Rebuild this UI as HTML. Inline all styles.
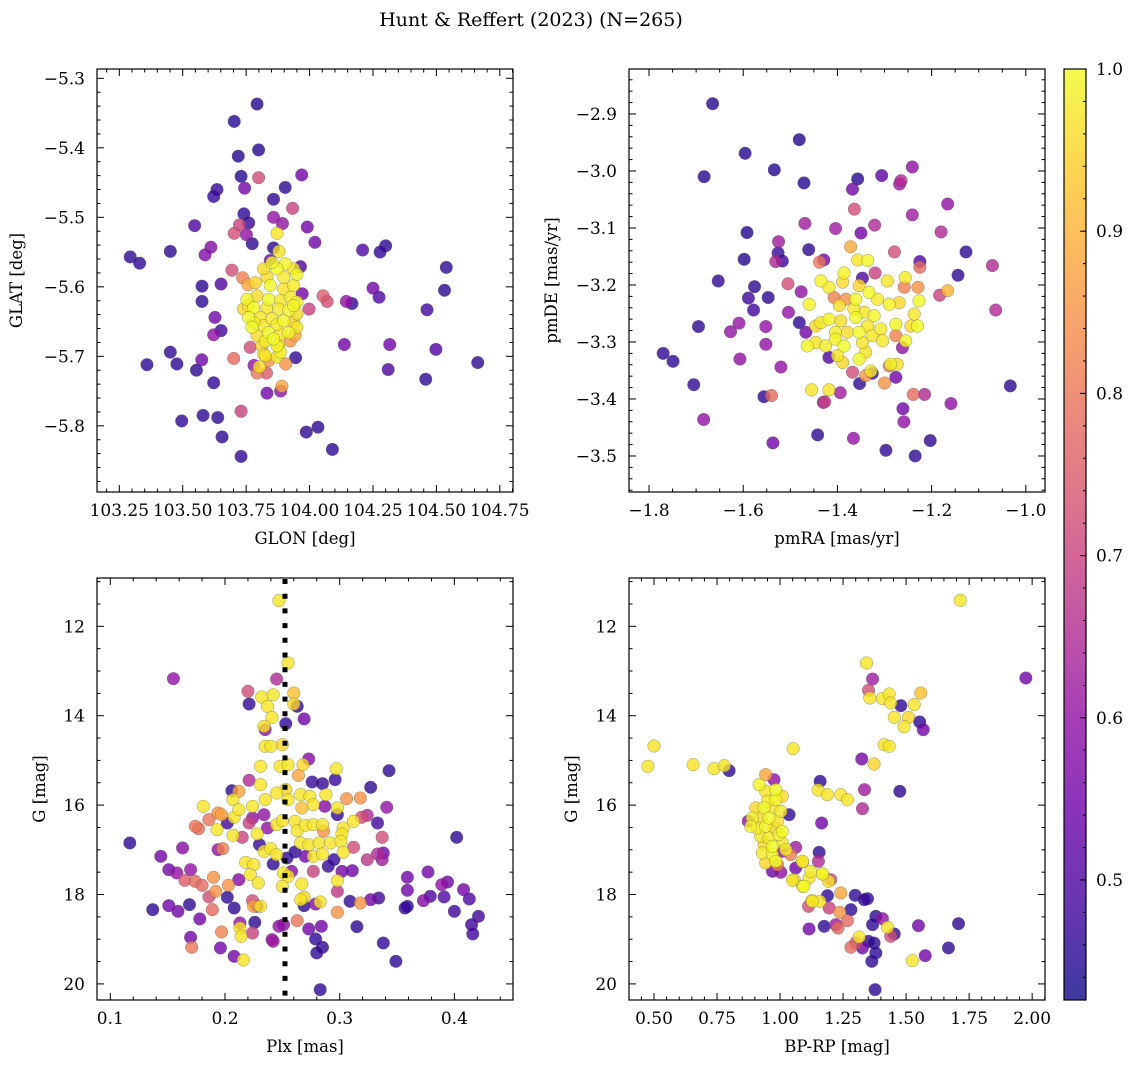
<!DOCTYPE html>
<html><head><meta charset="utf-8">
<style>
html,body{margin:0;padding:0;background:#fff;}
svg{display:block;font-family:"DejaVu Serif","Liberation Serif",serif;}
</style></head>
<body>
<svg id="fig" width="1136" height="1068" viewBox="0 0 1136 1068" xmlns="http://www.w3.org/2000/svg">
<text x="531" y="26" text-anchor="middle" font-size="19">Hunt &amp; Reffert (2023) (N=265)</text>
</svg>
<script>
// ---------- Panel 1: GLON / GLAT ----------
const glon = [103.793,103.703,103.799,103.719,103.730,103.799,103.969,103.635,103.622,103.744,103.904,103.858,103.933,103.741,103.760,103.724,103.703,103.751,103.858,103.893,103.991,103.547,103.774,103.872,104.021,103.451,103.293,103.330,103.611,103.588,103.858,103.879,104.209,104.300,104.278,104.539,104.532,103.694,103.576,103.651,103.576,103.845,103.964,103.736,103.757,104.250,104.274,104.053,104.069,104.145,104.167,103.971,103.998,104.463,103.627,103.651,103.622,103.451,103.477,103.359,103.554,103.575,103.701,103.766,103.781,103.802,103.793,103.830,103.906,103.945,104.137,104.316,104.310,104.498,104.663,104.458,103.622,103.832,103.891,103.886,103.730,103.496,103.580,103.638,103.655,103.987,104.033,104.090,103.730,103.924,103.943,103.950,103.819,103.872,103.839,103.878];
const glat = [-5.337,-5.362,-5.403,-5.412,-5.441,-5.443,-5.439,-5.460,-5.470,-5.458,-5.457,-5.474,-5.487,-5.495,-5.508,-5.511,-5.523,-5.525,-5.500,-5.509,-5.514,-5.512,-5.538,-5.523,-5.536,-5.549,-5.557,-5.566,-5.543,-5.554,-5.544,-5.549,-5.547,-5.541,-5.550,-5.572,-5.605,-5.576,-5.599,-5.596,-5.621,-5.562,-5.571,-5.587,-5.597,-5.602,-5.615,-5.613,-5.621,-5.621,-5.624,-5.610,-5.632,-5.633,-5.644,-5.663,-5.669,-5.694,-5.711,-5.712,-5.720,-5.705,-5.703,-5.687,-5.713,-5.715,-5.724,-5.724,-5.711,-5.702,-5.683,-5.683,-5.719,-5.690,-5.709,-5.733,-5.738,-5.753,-5.743,-5.750,-5.779,-5.793,-5.785,-5.788,-5.816,-5.809,-5.802,-5.834,-5.844,-5.678,-5.670,-5.658,-5.697,-5.701,-5.706,-5.684];
const prob1 = [.45,.45,.45,.45,.45,.72,.55,.47,.47,.55,.46,.46,.7,.46,.47,.7,.72,.6,.6,.6,.55,.5,.46,.97,.55,.46,.46,.46,.58,.58,.46,.97,.5,.46,.46,.46,.46,.72,.46,.5,.46,.55,.5,.82,.88,.55,.5,.75,.72,.6,.47,.55,.7,.48,.55,.48,.6,.46,.46,.46,.46,.55,.78,.72,.6,.97,.8,.75,.85,.46,.55,.55,.5,.5,.46,.46,.46,.55,.88,.6,.7,.46,.46,.46,.46,.46,.46,.46,.46,.85,.88,.97,.97,.97,.85,.97];
const glonCore = [103.904,103.937,103.872,103.832,103.898,103.950,103.786,103.845,103.898,103.937,103.753,103.793,103.839,103.885,103.924,103.950,103.740,103.780,103.832,103.878,103.918,103.950,103.760,103.806,103.852,103.898,103.937,103.773,103.819,103.872,103.918,103.793,103.839,103.885,103.826,103.872,103.812,103.858,103.760,103.780,103.937,103.819,103.852,103.826,103.885];
const glatCore = [-5.567,-5.574,-5.574,-5.586,-5.586,-5.582,-5.594,-5.598,-5.603,-5.598,-5.618,-5.613,-5.618,-5.620,-5.615,-5.622,-5.632,-5.630,-5.630,-5.632,-5.634,-5.639,-5.644,-5.644,-5.646,-5.649,-5.651,-5.658,-5.656,-5.654,-5.666,-5.670,-5.666,-5.668,-5.678,-5.685,-5.685,-5.675,-5.627,-5.651,-5.627,-5.574,-5.565,-5.699,-5.694];
const coreProb = [0.99,0.97,1.0,0.96,0.98,0.99,0.95,1.0,0.97,0.98,0.99,0.96,1.0,0.97,0.98,0.99,0.95,1.0,0.97,0.98,0.99,0.96,1.0,0.97,0.98,0.99,0.95,1.0,0.97,0.98,0.99,0.96,1.0,0.97,0.98,0.99,0.95,1.0,0.97,0.98,0.99,0.96,1.0,0.97,0.98,0.99,0.95,1.0,0.97,0.98];

// ---------- Panel 2: pmRA / pmDE ----------
const pmra = [-1.665,-1.481,-1.596,-1.683,-1.534,-1.471,-1.357,-1.368,-1.306,-1.265,-1.268,-1.241,-1.364,-1.166,-1.241,-1.469,-1.404,-1.350,-1.321,-1.180,-1.592,-1.525,-1.526,-1.517,-1.531,-1.598,-1.461,-1.429,-1.438,-1.372,-1.279,-1.225,-1.225,-1.320,-1.127,-1.144,-1.071,-1.653,-1.576,-1.589,-1.547,-1.578,-1.505,-1.477,-1.504,-1.183,-1.166,-1.064,-1.695,-1.609,-1.627,-1.552,-1.552,-1.607,-1.520,-1.481,-1.467,-1.770,-1.749,-1.705,-1.684,-1.556,-1.540,-1.430,-1.427,-1.394,-1.455,-1.418,-1.353,-1.300,-1.239,-1.215,-1.159,-1.261,-1.259,-1.442,-1.537,-1.366,-1.297,-1.235,-1.203,-1.033,-1.262,-1.276,-1.326,-1.368,-1.418,-1.340,-1.290,-1.407,-1.382,-1.347,-1.276,-1.229,-1.258];
const pmde = [-2.882,-2.945,-2.969,-3.010,-2.998,-3.021,-3.014,-3.032,-3.008,-3.017,-3.023,-2.993,-3.067,-3.058,-3.077,-3.092,-3.101,-3.109,-3.095,-3.107,-3.108,-3.124,-3.144,-3.158,-3.159,-3.155,-3.138,-3.156,-3.160,-3.133,-3.142,-3.159,-3.169,-3.179,-3.142,-3.183,-3.166,-3.193,-3.203,-3.223,-3.222,-3.244,-3.198,-3.212,-3.248,-3.218,-3.210,-3.244,-3.273,-3.267,-3.282,-3.273,-3.304,-3.330,-3.344,-3.266,-3.283,-3.320,-3.334,-3.375,-3.436,-3.396,-3.394,-3.406,-3.405,-3.389,-3.384,-3.384,-3.373,-3.372,-3.392,-3.392,-3.408,-3.417,-3.440,-3.463,-3.477,-3.469,-3.490,-3.500,-3.473,-3.377,-3.310,-3.362,-3.355,-3.353,-3.327,-3.359,-3.342,-3.222,-3.225,-3.188,-3.289,-3.204,-3.204];
const prob2 = [.45,.45,.45,.45,.45,.45,.45,.55,.52,.65,.62,.6,.72,.6,.62,.62,.62,.55,.65,.65,.45,.62,.47,.47,.65,.45,.46,.55,.8,.88,.72,.5,.78,.7,.46,.46,.65,.46,.46,.48,.46,.48,.72,.6,.6,.7,.9,.65,.46,.6,.6,.6,.6,.6,.6,.46,.55,.46,.46,.46,.6,.46,.78,.6,.7,.62,.97,.97,.46,.85,.78,.65,.6,.55,.6,.46,.55,.6,.46,.46,.46,.46,.6,.55,.5,.72,.5,.85,.8,.82,.85,.5,.82,.85,.82];
const pmraCore = [-1.386,-1.357,-1.336,-1.389,-1.418,-1.435,-1.354,-1.333,-1.294,-1.256,-1.460,-1.396,-1.361,-1.343,-1.315,-1.290,-1.269,-1.227,-1.237,-1.435,-1.418,-1.393,-1.361,-1.336,-1.308,-1.276,-1.244,-1.464,-1.446,-1.425,-1.404,-1.379,-1.354,-1.326,-1.304,-1.255,-1.389,-1.354,-1.340,-1.329,-1.287,-1.273,-1.386,-1.347,-1.365,-1.322,-1.446,-1.230,-1.400,-1.404];
const pmdeCore = [-3.179,-3.156,-3.157,-3.195,-3.204,-3.193,-3.201,-3.213,-3.193,-3.187,-3.234,-3.236,-3.225,-3.248,-3.225,-3.234,-3.231,-3.228,-3.251,-3.266,-3.260,-3.263,-3.257,-3.272,-3.277,-3.269,-3.272,-3.307,-3.301,-3.307,-3.295,-3.283,-3.283,-3.289,-3.298,-3.298,-3.336,-3.330,-3.318,-3.351,-3.339,-3.339,-3.307,-3.301,-3.242,-3.254,-3.272,-3.272,-3.324,-3.283];

// ---------- Panel 3: Plx / G ----------
const plx = [.247,.255,.245,.155,.220,.221,.232,.242,.260,.237,.260,.263,.269,.253,.241,.234,.235,.235,.240,.250,.273,.231,.248,.255,.268,.264,.297,.296,.343,.327,.221,.231,.276,.285,.206,.212,.207,.181,.194,.197,.208,.212,.224,.234,.224,.235,.245,.253,.255,.266,.274,.267,.277,.288,.287,.306,.318,.298,.298,.324,.319,.341,.333,.186,.174,.177,.202,.193,.207,.215,.221,.228,.237,.245,.250,.261,.263,.270,.277,.285,.286,.303,.312,.302,.337,.402,.117,.144,.163,.194,.198,.230,.234,.240,.245,.254,.261,.266,.273,.282,.292,.301,.270,.277,.285,.303,.312,.324,.333,.338,.337,.290,.295,.151,.158,.170,.165,.174,.180,.190,.203,.212,.218,.225,.222,.229,.242,.251,.255,.258,.277,.302,.311,.298,.267,.250,.298,.359,.359,.377,.389,.394,.408,.413,.379,.391,.373,.359,.357,.400,.421,.415,.416,.186,.192,.202,.208,.224,.228,.225,.231,.269,.269,.283,.279,.266,.309,.318,.327,.334,.298,.137,.151,.159,.169,.178,.189,.197,.213,.213,.224,.214,.226,.263,.247,.273,.284,.315,.170,.171,.196,.208,.216,.241,.242,.279,.285,.280,.338,.349,.283,.251];
const gmag3 = [11.426,12.821,13.179,13.171,13.454,13.738,13.581,13.529,13.492,13.790,13.738,13.790,14.073,14.178,14.036,14.237,14.312,14.685,14.685,14.648,14.968,15.132,15.132,15.095,15.095,15.334,15.184,15.431,15.229,15.602,15.445,15.542,15.483,15.520,15.677,15.691,15.878,16.027,16.176,16.214,16.273,16.102,16.027,16.214,16.288,15.878,15.729,15.654,15.878,15.766,15.803,16.064,15.990,15.766,16.027,15.856,15.841,16.064,16.214,16.228,16.273,16.049,16.400,16.325,16.474,16.527,16.400,16.549,16.676,16.721,16.400,16.646,16.512,16.437,16.348,16.363,16.571,16.452,16.437,16.437,16.586,16.512,16.363,16.646,16.721,16.721,16.847,17.146,16.959,16.997,16.974,16.885,17.034,16.974,17.108,17.183,17.049,16.847,16.885,16.847,16.847,16.810,17.146,17.146,17.093,17.056,16.944,17.220,17.093,17.071,17.220,17.369,17.220,17.444,17.518,17.444,17.682,17.705,17.794,17.615,17.794,17.668,17.280,17.332,17.556,17.742,17.317,17.518,17.593,17.481,17.481,17.481,17.466,17.690,17.764,17.817,17.929,17.615,17.906,17.496,17.780,17.720,17.891,18.100,18.040,18.055,18.137,18.264,18.302,18.376,18.488,18.674,18.883,18.055,17.929,18.063,18.302,18.137,18.264,18.264,18.264,18.063,18.249,18.167,18.212,18.115,18.152,18.190,18.115,18.078,18.398,18.339,18.249,18.376,18.227,18.547,18.339,18.838,18.637,18.749,18.861,18.935,18.622,18.585,18.711,18.771,18.711,18.719,18.958,19.181,19.196,19.383,19.465,19.010,19.047,18.995,19.181,19.308,19.085,19.495,20.128,18.674];
const prob3 = [.97,.97,.65,.6,.72,.46,.97,.97,.92,.97,.95,.46,.55,.46,.97,.97,.6,.97,.97,.95,.58,.97,.97,.97,.95,.88,.97,.47,.46,.46,.65,.97,.47,.47,.46,.88,.97,.97,.85,.88,.97,.97,.97,.6,.6,.97,.97,.95,.97,.97,.97,.92,.97,.97,.58,.85,.85,.97,.47,.65,.72,.6,.48,.8,.8,.78,.48,.97,.97,.7,.7,.97,.6,.97,.97,.97,.97,.97,.97,.97,.85,.97,.97,.97,.72,.46,.46,.55,.58,.6,.82,.47,.97,.97,.97,.46,.46,.97,.97,.97,.97,.97,.55,.97,.97,.97,.72,.68,.65,.55,.62,.47,.47,.55,.6,.6,.75,.78,.78,.85,.85,.58,.97,.97,.97,.97,.46,.97,.97,.58,.7,.55,.55,.97,.97,.97,.68,.55,.55,.55,.6,.55,.55,.5,.5,.5,.58,.46,.47,.48,.48,.48,.48,.72,.85,.46,.46,.72,.55,.88,.97,.95,.46,.97,.58,.97,.46,.85,.55,.48,.85,.46,.55,.55,.46,.55,.78,.82,.6,.97,.7,.97,.46,.8,.6,.55,.55,.46,.55,.8,.55,.55,.97,.6,.62,.46,.46,.46,.46,.46,.46,.58];
const plxCut = [0.2523];

// ---------- Panel 4: BP-RP / G ----------
const bprp = [1.715,1.343,1.367,1.351,1.356,1.406,1.433,1.439,1.479,1.532,1.558,1.453,1.509,1.492,1.554,1.568,1.975,.500,.476,.655,.738,.779,.798,1.052,1.324,1.373,1.413,1.433,1.159,1.151,1.188,1.241,1.267,1.335,1.327,1.475,1.165,1.155,1.152,1.089,1.062,.943,.976,1.036,.874,1.042,1.003,1.168,1.192,1.201,1.115,1.049,1.089,1.126,1.158,1.113,1.188,1.241,1.298,1.334,1.347,1.281,1.237,1.267,1.230,1.175,1.115,1.380,1.406,1.367,1.426,1.453,1.439,1.314,1.300,1.281,1.327,1.351,1.373,1.380,1.364,1.549,1.708,1.668,1.576,1.525,1.377,1.221,1.195,1.062,1.009,.970,.990];
const gmag4 = [11.419,12.821,13.179,13.432,13.604,13.618,13.514,13.715,13.775,13.753,13.492,14.036,14.036,14.245,14.140,14.312,13.156,14.677,15.132,15.095,15.184,15.117,15.229,14.737,14.968,15.080,14.648,14.685,15.468,15.662,15.766,15.766,15.878,15.654,16.079,15.691,16.400,17.056,17.257,17.272,16.944,15.319,15.431,16.214,16.363,17.108,17.504,17.541,17.705,17.668,17.630,17.682,17.817,18.137,18.152,18.264,18.026,17.966,18.018,18.115,18.093,18.339,18.398,18.585,18.749,18.711,18.771,18.488,18.540,18.674,18.734,18.883,18.935,18.950,19.085,19.181,19.196,19.047,19.085,19.308,19.495,18.697,18.652,19.196,19.368,19.480,20.128,18.674,18.302,17.407,17.034,17.481,17.332];
const prob4 = [.97,.97,.62,.72,.97,.97,.97,.97,.46,.97,.92,.97,.95,.97,.46,.55,.55,.97,.97,.97,.97,.97,.46,.97,.55,.95,.97,.97,.46,.97,.97,.97,.97,.62,.65,.46,.55,.46,.65,.97,.62,.88,.6,.46,.6,.82,.6,.97,.97,.72,.97,.97,.97,.97,.97,.72,.46,.88,.46,.47,.46,.46,.85,.78,.78,.46,.55,.46,.6,.46,.97,.46,.72,.97,.72,.78,.55,.46,.46,.46,.46,.55,.46,.46,.55,.97,.46,.62,.7,.55,.6,.55,.82];
const bprpCore = [.917,.943,.983,1.009,.950,.983,.904,.937,.970,1.003,.890,.923,.956,.990,.910,.943,.976,1.009,.923,.956,.996,.937,.970,1.009,.930,.970,.943,.983,1.089,1.122,1.168,1.056,1.095,1.128,1.023,.884];
const gmag4Core = [15.542,15.691,15.654,15.803,15.915,15.878,16.064,16.064,16.064,16.139,16.288,16.288,16.288,16.363,16.512,16.475,16.512,16.586,16.698,16.735,16.661,16.885,16.922,16.847,17.071,17.108,17.295,17.257,17.257,17.481,17.541,17.668,17.817,18.152,16.997,16.475];

// ---------- Colorbar ----------
const cbTicks = [0.5,0.6,0.7,0.8,0.9,1.0];
const cbRange = [0.426,1.0];

// ---------- rendering ----------
const NS = "http://www.w3.org/2000/svg";
const svg = document.getElementById('fig');
function mk(tag, attrs, parent){ const e=document.createElementNS(NS,tag); for(const k in attrs) e.setAttribute(k,attrs[k]); (parent||svg).appendChild(e); return e; }

const plasmaStops = ["#0d0887","#41049d","#6a00a8","#8f0da4","#b12a90","#cc4778","#e16462","#f2844b","#fca636","#fcce25","#f0f921"];
function hex2rgb(h){return [parseInt(h.substr(1,2),16),parseInt(h.substr(3,2),16),parseInt(h.substr(5,2),16)];}
function plasma(t){ t=Math.max(0,Math.min(1,t)); const f=t*10, i=Math.min(9,Math.floor(f)), r=f-i; const a=hex2rgb(plasmaStops[i]), b=hex2rgb(plasmaStops[i+1]); return `rgb(${Math.round(a[0]+(b[0]-a[0])*r)},${Math.round(a[1]+(b[1]-a[1])*r)},${Math.round(a[2]+(b[2]-a[2])*r)})`; }
function pcolor(p){ return plasma((p-cbRange[0])/(cbRange[1]-cbRange[0])); }

function minus(s){ return s.replace('-','\u2212'); }
const TFS = 17;

function makePanel(cfg){
  const {x0,x1,y0,y1,xd,yd,name} = cfg;
  const sx = v => x0 + (v-xd[0])/(xd[1]-xd[0])*(x1-x0);
  const sy = v => y0 + (v-yd[0])/(yd[1]-yd[0])*(y1-y0);
  const g = mk('g',{});
  
  
  const clipId = name+'-clip';
  const cp = mk('clipPath',{id:clipId},g); mk('rect',{x:x0,y:y0,width:x1-x0,height:y1-y0},cp);
  const marks = mk('g',{'clip-path':`url(#${clipId})`},g);
  
  
  const ax = mk('g',{stroke:'#000','stroke-width':1},g);
  
  
  const eps=1e-9;
  const xmin=Math.min(...xd), xmax=Math.max(...xd), ymin=Math.min(...yd), ymax=Math.max(...yd);
  for(let v=Math.ceil(xmin/cfg.xminor-eps)*cfg.xminor; v<=xmax+eps; v+=cfg.xminor){
    const isMaj = Math.abs(v/cfg.xmajor-Math.round(v/cfg.xmajor))<1e-6;
    const L = isMaj?7:3.5, x=sx(v);
    mk('line',{x1:x,x2:x,y1:y1,y2:y1-L},ax); mk('line',{x1:x,x2:x,y1:y0,y2:y0+L},ax);
  }
  for(let v=Math.ceil(ymin/cfg.yminor-eps)*cfg.yminor; v<=ymax+eps; v+=cfg.yminor){
    const isMaj = Math.abs(v/cfg.ymajor-Math.round(v/cfg.ymajor))<1e-6;
    const L = isMaj?7:3.5, y=sy(v);
    mk('line',{x1:x0,x2:x0+L,y1:y,y2:y},ax); mk('line',{x1:x1,x2:x1-L,y1:y,y2:y},ax);
  }
  cfg.xticks.forEach(v=>{
    const t=mk('text',{x:sx(v),y:y1+24,'text-anchor':'middle','font-size':TFS},g);
    
    
    t.textContent=minus(v.toFixed(cfg.xdec));
  });
  cfg.yticks.forEach(v=>{
    const t=mk('text',{x:x0-12,y:sy(v)+6,'text-anchor':'end','font-size':TFS},g);
    
    
    t.textContent=minus(v.toFixed(cfg.ydec));
  });
  const xl=mk('text',{x:(x0+x1)/2,y:y1+52,'text-anchor':'middle','font-size':16.5},g);
  
  
  xl.textContent=cfg.xlabel;
  const yl=mk('text',{x:cfg.ylx,y:(y0+y1)/2,'text-anchor':'middle','font-size':16.5,transform:`rotate(-90 ${cfg.ylx} ${(y0+y1)/2})`},g);
  
  
  yl.textContent=cfg.ylabel;
  return {sx,sy,marks,g,frame:()=>{ const f=mk('rect',{x:x0,y:y0,width:x1-x0,height:y1-y0,fill:'none',stroke:'#000','stroke-width':1.2},g);   }};
}

function scatter(P, xs, ys, ps, name){
  const pts = xs.map((x,i)=>({x, y:ys[i], p:(ps[i]!==undefined?ps[i]:0.97)})).filter(d=>d.y!==undefined);
  return pts.map(d=>Object.assign(d,{name}));
}
function drawPoints(P, pts){
  pts.sort((a,b)=>a.p-b.p);
  pts.forEach(d=>{
    const c=mk('circle',{cx:P.sx(d.x),cy:P.sy(d.y),r:6.3,fill:pcolor(d.p),'fill-opacity':0.8,stroke:'#555','stroke-width':0.5,'stroke-opacity':0.6},P.marks);
    
    
  });
}

const P1 = makePanel({name:'panel-glon-glat',x0:97,x1:513,y0:69,y1:492,xd:[103.162,104.802],yd:[-5.2866,-5.8952],
  xminor:0.05,xmajor:0.25,yminor:0.02,ymajor:0.1,xticks:[103.25,103.5,103.75,104,104.25,104.5,104.75],xdec:2,
  yticks:[-5.3,-5.4,-5.5,-5.6,-5.7,-5.8],ydec:1,xlabel:'GLON [deg]',ylabel:'GLAT [deg]',ylx:22});
drawPoints(P1, scatter(P1,glon,glat,prob1,'star-point').concat(scatter(P1,glonCore,glatCore,coreProb,'member-point')));
P1.frame();

const P2 = makePanel({name:'panel-pm',x0:629,x1:1045,y0:69,y1:492,xd:[-1.8425,-0.9593],yd:[-2.8211,-3.5632],
  xminor:0.05,xmajor:0.2,yminor:0.02,ymajor:0.1,xticks:[-1.8,-1.6,-1.4,-1.2,-1.0],xdec:1,
  yticks:[-2.9,-3.0,-3.1,-3.2,-3.3,-3.4,-3.5],ydec:1,xlabel:'pmRA [mas/yr]',ylabel:'pmDE [mas/yr]',ylx:557});
drawPoints(P2, scatter(P2,pmra,pmde,prob2,'star-point').concat(scatter(P2,pmraCore,pmdeCore,coreProb,'member-point')));
P2.frame();

const P3 = makePanel({name:'panel-plx-g',x0:97,x1:513,y0:578,y1:1000,xd:[0.0884,0.4511],yd:[10.919,20.36],
  xminor:0.02,xmajor:0.1,yminor:0.5,ymajor:2,xticks:[0.1,0.2,0.3,0.4],xdec:1,
  yticks:[12,14,16,18,20],ydec:0,xlabel:'Plx [mas]',ylabel:'G [mag]',ylx:45});
drawPoints(P3, scatter(P3,plx,gmag3,prob3,'star-point'));
plxCut.forEach(v=>{
  const l=mk('line',{x1:P3.sx(v),x2:P3.sx(v),y1:579,y2:1000,stroke:'#000','stroke-width':5,'stroke-dasharray':'5 9.7'},P3.marks);
  
  
});
P3.frame();

const P4 = makePanel({name:'panel-cmd',x0:629,x1:1045,y0:578,y1:1000,xd:[0.4008,2.051],yd:[10.919,20.36],
  xminor:0.05,xmajor:0.25,yminor:0.5,ymajor:2,xticks:[0.5,0.75,1.0,1.25,1.5,1.75,2.0],xdec:2,
  yticks:[12,14,16,18,20],ydec:0,xlabel:'BP-RP [mag]',ylabel:'G [mag]',ylx:577});
drawPoints(P4, scatter(P4,bprp,gmag4,prob4,'star-point').concat(scatter(P4,bprpCore,gmag4Core,coreProb,'member-point')));
P4.frame();

const cb = mk('g',{});


const defs = mk('defs',{},cb);
const grad = mk('linearGradient',{id:'cbgrad',x1:0,y1:1,x2:0,y2:0},defs);
for(let i=0;i<=20;i++){ mk('stop',{offset:(i/20),'stop-color':plasma(i/20)},grad); }
const cbx0=1064,cbx1=1086,cby0=69,cby1=1000;
const cy = v => cby1 - (v-cbRange[0])/(cbRange[1]-cbRange[0])*(cby1-cby0);
const cbr=mk('rect',{x:cbx0,y:cby0,width:cbx1-cbx0,height:cby1-cby0,fill:'url(#cbgrad)','fill-opacity':0.8},cb);


for(let v=0.44; v<=1.0001; v+=0.02){ mk('line',{x1:cbx1,x2:cbx1-3,y1:cy(v),y2:cy(v),stroke:'#000','stroke-width':1},cb); }
cbTicks.forEach(v=>{
  mk('line',{x1:cbx1,x2:cbx1-6,y1:cy(v),y2:cy(v),stroke:'#000','stroke-width':1},cb);
  const t=mk('text',{x:cbx1+10,y:cy(v)+6,'font-size':TFS},cb);
  
  
  t.textContent=v.toFixed(1);
});
mk('rect',{x:cbx0,y:cby0,width:cbx1-cbx0,height:cby1-cby0,fill:'none',stroke:'#000','stroke-width':1.2},cb);
</script>
</body></html>
